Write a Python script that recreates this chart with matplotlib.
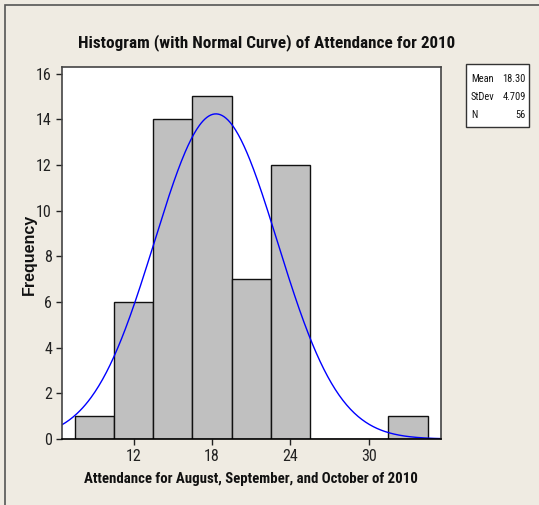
import numpy as np
import matplotlib.pyplot as plt
from matplotlib.patches import Rectangle

# Histogram counts (bin width 3, centred on 9..33)
bin_centers = [9, 12, 15, 18, 21, 24, 27, 30, 33]
counts = [1, 6, 14, 15, 7, 12, 0, 0, 1]
bin_width = 3
mean, sd, n = 18.30, 4.709, 56
xticks = [12, 18, 24, 30]
yticks = [0, 2, 4, 6, 8, 10, 12, 14, 16]

narrow = ['Liberation Sans Narrow', 'Roboto Condensed', 'Barlow Semi Condensed', 'Liberation Sans', 'DejaVu Sans']
bg = '#EFEBE2'

fig = plt.figure(figsize=(5.39, 5.05), dpi=100, facecolor=bg)
# figure border (left/top edges visible in the screenshot)
fig.patches.append(Rectangle((5/539, -0.1), 1.2, 1 - 5/505 + 0.1, transform=fig.transFigure,
                             fill=False, edgecolor='#555555', linewidth=1.2))

ax = fig.add_axes([0.1145, 0.1307, 0.7031, 0.7373])
ax.set_facecolor('white')

ax.bar(bin_centers, counts, width=bin_width, color='#C0C0C0', edgecolor='#111111', linewidth=1.0)

# fitted normal curve scaled to counts
x = np.linspace(6.5, 35.5, 400)
y = n * bin_width / (sd * np.sqrt(2 * np.pi)) * np.exp(-0.5 * ((x - mean) / sd) ** 2)
ax.plot(x, y, color='#0000FF', linewidth=1.0)

ax.set_xlim(6.5, 35.5)
ax.set_ylim(0, 16.3)
ax.set_xticks(xticks)
ax.set_yticks(yticks)
for s in ax.spines.values():
    s.set_color('#444444')
    s.set_linewidth(1.2)
ax.spines['bottom'].set_color('black')
ax.tick_params(direction='out', length=4, width=1, color='#222222', labelsize=11.5, pad=3)
for lab in ax.get_xticklabels() + ax.get_yticklabels():
    lab.set_family(narrow)
    lab.set_color('#222222')

fig.text(0.494, 1 - 43/505, 'Histogram (with Normal Curve) of Attendance for 2010',
         ha='center', va='center', fontsize=12.3, fontweight='bold', family=narrow, color='#111111')
fig.text(0.465, 1 - 479/505, 'Attendance for August, September, and October of 2010',
         ha='center', va='center', fontsize=10.7, fontweight='bold', family=narrow, color='#111111')
fig.text(29/539, 1 - 254/505, 'Frequency', rotation=90, ha='center', va='center',
         fontsize=11.5, fontweight='bold', family=['Liberation Sans', 'DejaVu Sans'], color='#111111')

# stats box
fig.patches.append(Rectangle((465.7/539, 1 - 126.7/505), 63.6/539, 62.4/505,
                             transform=fig.transFigure, facecolor='white', edgecolor='#333333', linewidth=1))
stats = [('Mean', '18.30'), ('StDev', '4.709'), ('N', '56')]
for i, (k, v) in enumerate(stats):
    yy = 1 - (79 + i * 18) / 505
    fig.text(471/539, yy, k, ha='left', va='center', fontsize=7.5, family=narrow, color='#111111')
    fig.text(526/539, yy, v, ha='right', va='center', fontsize=7.5, family=narrow, color='#111111')

fig.savefig('out.png', dpi=100, facecolor=bg)
